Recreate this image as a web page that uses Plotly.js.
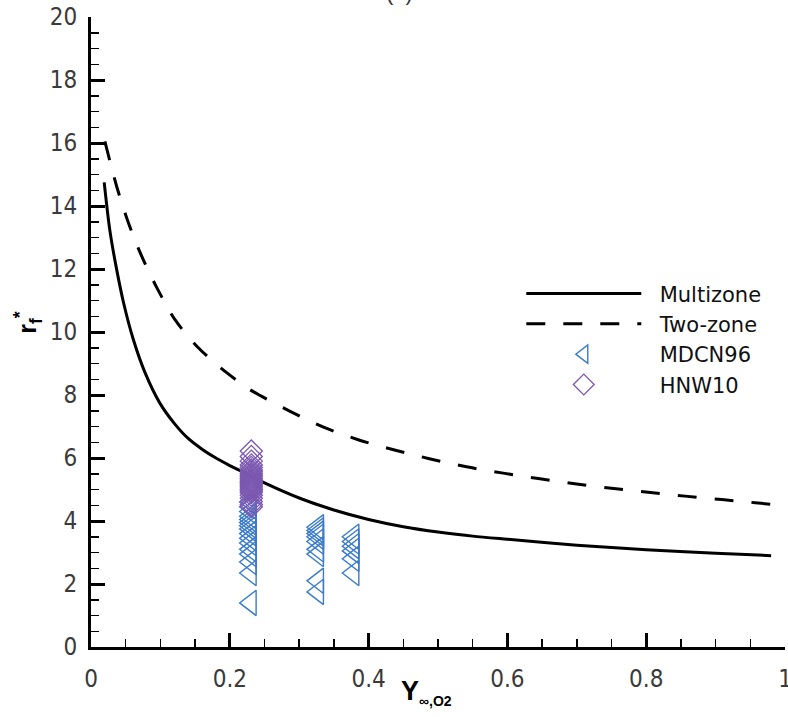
<!DOCTYPE html>
<html>
<head>
<meta charset="utf-8">
<script src="https://cdn.plot.ly/plotly-3.0.1.min.js"></script>
<style>html,body{margin:0;padding:0;background:#fff;}#chart{width:788px;height:717px;}</style>
</head>
<body>
<div id="chart"></div>
<script>
// Multizone curve (solid)
const multiX = [0.019, 0.027, 0.037, 0.047, 0.061, 0.078, 0.099, 0.12, 0.14, 0.16, 0.18, 0.2, 0.22, 0.25, 0.3, 0.35, 0.4, 0.45, 0.5, 0.55, 0.6, 0.7, 0.8, 0.9, 0.98];
const multiY = [14.75, 13.25, 11.98, 10.92, 9.76, 8.70, 7.75, 7.10, 6.62, 6.28, 6.00, 5.76, 5.54, 5.21, 4.73, 4.35, 4.05, 3.82, 3.65, 3.52, 3.42, 3.23, 3.09, 2.98, 2.90];
// Two-zone curve (dashed)
const twoX = [0.020, 0.037, 0.054, 0.071, 0.095, 0.121, 0.155, 0.196, 0.229, 0.287, 0.335, 0.385, 0.436, 0.489, 0.541, 0.594, 0.647, 0.697, 0.75, 0.803, 0.856, 0.909, 0.957, 0.98];
const twoY = [16.05, 14.62, 13.46, 12.51, 11.40, 10.39, 9.49, 8.70, 8.17, 7.48, 6.98, 6.58, 6.26, 5.97, 5.72, 5.52, 5.34, 5.18, 5.04, 4.91, 4.79, 4.68, 4.58, 4.53];
// MDCN96 data
const mdcnX = [0.23,0.23,0.23,0.23,0.23,0.23,0.23,0.23,0.23,0.23,0.23,0.23,0.23,0.23,0.23,0.23,
               0.327,0.327,0.327,0.327,0.327,0.327,0.327,0.327,0.327,
               0.378,0.378,0.378,0.378,0.378,0.378];
const mdcnY = [1.4,2.35,2.7,2.95,3.1,3.3,3.45,3.6,3.75,3.85,3.95,4.05,4.15,4.3,4.45,4.6,
               1.75,2.1,2.95,3.1,3.35,3.5,3.6,3.7,3.8,
               2.35,2.8,3.05,3.2,3.35,3.5];
// HNW10 data
const hnwX = [0.231,0.231,0.231,0.231,0.231,0.231,0.231,0.231,0.231,0.231,0.231,0.231,0.231,0.231,0.231,0.231,0.231,0.231,0.231,0.231,0.231,0.231,0.231,0.231,0.231,0.231];
const hnwY = [6.22,6.05,5.9,5.78,5.7,5.62,5.56,5.5,5.45,5.4,5.35,5.3,5.26,5.22,5.18,5.14,5.1,5.05,5.0,4.95,4.9,4.82,4.72,4.62,4.52,4.45];

const xTickVals = [0, 0.2, 0.4, 0.6, 0.8, 1];
const xTickText = ['0', '0.2', '0.4', '0.6', '0.8', '1'];

const xTitle = '<b>Y<sub><span style="font-size:14px">∞,O2</span></sub></b>';
const yTitle = '<b>r<sub>f</sub><sup>*</sup></b>';
const nb = '\u00a0\u00a0';

const traces = [
  {x: multiX, y: multiY, name: nb + 'Multizone', mode: 'lines', line: {color: '#000', width: 3, shape: 'spline', smoothing: 0.8}},
  {x: twoX, y: twoY, name: nb + 'Two-zone', mode: 'lines', line: {color: '#000', width: 3, dash: '19px,18px', shape: 'spline', smoothing: 0.8}},
  {x: mdcnX, y: mdcnY, name: nb + 'MDCN96', mode: 'markers', marker: {symbol: 'triangle-left-open', size: 22, color: '#3a7bcb', line: {width: 1.4}}},
  {x: hnwX, y: hnwY, name: nb + 'HNW10', mode: 'markers', marker: {symbol: 'diamond-open', size: 17, color: '#7b58b0', line: {width: 1.3}}}
];

const tickFont = {family: '"Liberation Sans Narrow", "DejaVu Sans Condensed", "Arial Narrow", "Liberation Sans", sans-serif', size: 24, color: '#3a3a3a'};
const titleFont = {family: '"Liberation Sans", Arial, sans-serif', size: 27, color: '#000'};

const layout = {
  width: 788, height: 717,
  margin: {l: 91, r: 3, t: 17, b: 70},
  paper_bgcolor: '#fff', plot_bgcolor: '#fff',
  showlegend: true,
  legend: {x: 0.62, y: 0.593, xanchor: 'left', yanchor: 'top', itemwidth: 115,
           font: {family: '"DejaVu Sans", Verdana, sans-serif', size: 21, color: '#111'},
           bgcolor: 'rgba(0,0,0,0)', tracegroupgap: 0},
  xaxis: {range: [0, 1], tickmode: 'array', tickvals: xTickVals, ticktext: xTickText,
          showline: true, linewidth: 3, linecolor: '#000',
          ticks: 'inside', ticklen: 14, tickwidth: 3, tickcolor: '#000',
          minor: {dtick: 0.05, tick0: 0, ticks: 'inside', ticklen: 8, tickwidth: 1.5, tickcolor: '#000'},
          showgrid: false, zeroline: false, tickfont: tickFont, ticklabelstandoff: 8,
          ticklabeloverflow: 'allow'},
  yaxis: {range: [0, 20], dtick: 2, showline: true, linewidth: 3, linecolor: '#000',
          ticks: 'inside', ticklen: 14, tickwidth: 3, tickcolor: '#000',
          minor: {dtick: 0.5, ticks: 'inside', ticklen: 8, tickwidth: 1.5, tickcolor: '#000'},
          showgrid: false, zeroline: false, tickfont: tickFont, ticklabelstandoff: 6,
          ticklabeloverflow: 'allow'},
  annotations: [
    {text: '(a)', xref: 'paper', yref: 'paper', x: 0.445, y: 1, xanchor: 'center', yanchor: 'bottom',
     yshift: 10, showarrow: false, font: {family: '"Liberation Sans", Arial, sans-serif', size: 22, color: '#333'}},
    {text: xTitle, xref: 'paper', yref: 'paper', x: 0.483, y: 0, xanchor: 'center', yanchor: 'top',
     yshift: -27, showarrow: false, font: titleFont},
    {text: yTitle, xref: 'paper', yref: 'paper', x: -0.091, y: 0.516, xanchor: 'center', yanchor: 'middle',
     textangle: -90, showarrow: false, font: {family: '"Liberation Sans", Arial, sans-serif', size: 25, color: '#000'}}
  ]
};

Plotly.newPlot('chart', traces, layout, {displayModeBar: false, staticPlot: true});
</script>
</body>
</html>
